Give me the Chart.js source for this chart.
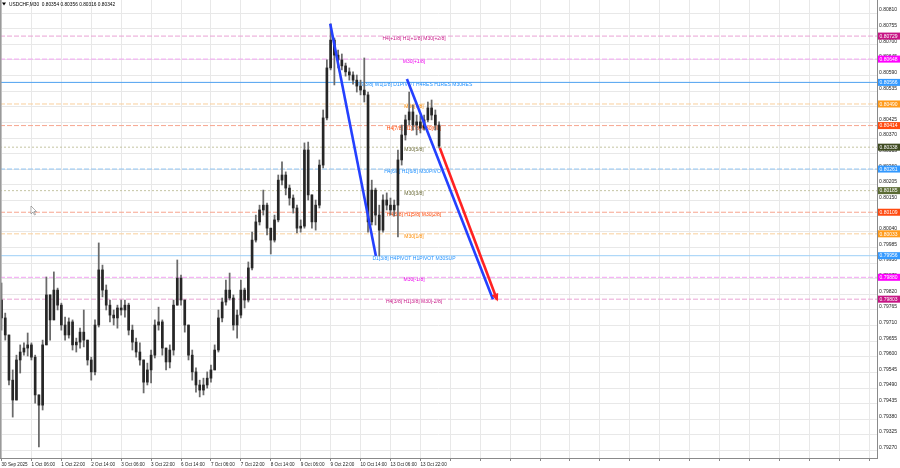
<!DOCTYPE html>
<html><head><meta charset="utf-8">
<script src="https://cdn.jsdelivr.net/npm/chart.js@4.4.1/dist/chart.umd.min.js"></script>
<style>html,body{margin:0;padding:0;background:#fff;}#wrap{position:relative;width:900px;height:468px;}</style>
</head><body><div id="wrap"><canvas id="c" width="900" height="468"></canvas></div>
<script>
// ---------------- DATA ----------------
const symbolTitle = "USDCHF,M30  0.80354 0.80356 0.80316 0.80342";
const timeLabels = ["30 Sep 2025","1 Oct 06:00","1 Oct 22:00","2 Oct 14:00","3 Oct 06:00","3 Oct 22:00","6 Oct 14:00","7 Oct 06:00","7 Oct 22:00","8 Oct 14:00","9 Oct 06:00","9 Oct 22:00","10 Oct 14:00","13 Oct 06:00","13 Oct 22:00"];
const priceTicks = [0.80810,0.80755,0.80700,0.80645,0.80590,0.80535,0.80480,0.80425,0.80370,0.80315,0.80260,0.80205,0.80150,0.80095,0.80040,0.79985,0.79930,0.79875,0.79820,0.79765,0.79710,0.79655,0.79600,0.79545,0.79490,0.79435,0.79380,0.79325,0.79270];
const firstOpen = 0.79800;
const highs = [
0.79860,0.79754,0.79677,0.79554,0.79606,0.79642,0.79649,0.79684,0.79649,0.79606,
0.79466,0.79659,0.79881,0.79818,0.79899,0.79842,0.79789,0.79740,0.79737,0.79730,
0.79666,0.79701,0.79765,0.79659,0.79599,0.79730,0.80001,0.79923,0.79853,0.79800,
0.79765,0.79782,0.79800,0.79800,0.79789,0.79712,0.79666,0.79649,0.79589,0.79578,
0.79624,0.79730,0.79775,0.79730,0.79631,0.79642,0.79800,0.79941,0.79888,0.79800,
0.79712,0.79624,0.79561,0.79518,0.79525,0.79547,0.79571,0.79642,0.79765,0.79807,
0.79870,0.79895,0.79818,0.79765,0.79870,0.79842,0.79934,0.80039,0.80099,0.80134,
0.80187,0.80141,0.80053,0.80099,0.80240,0.80286,0.80251,0.80205,0.80170,0.80134,
0.80082,0.80353,0.80356,0.80170,0.80152,0.80293,0.80469,0.80645,0.80772,0.80722,
0.80680,0.80666,0.80634,0.80617,0.80603,0.80592,0.80574,0.80652,0.80532,0.80222,
0.80194,0.80134,0.80170,0.80177,0.80159,0.80152,0.80328,0.80416,0.80451,0.80532,
0.80486,0.80451,0.80448,0.80451,0.80497,0.80504,0.80469,0.80427];
const lows = [
0.79694,0.79659,0.79501,0.79388,0.79448,0.79543,0.79606,0.79603,0.79589,0.79437,
0.79283,0.79413,0.79642,0.79659,0.79730,0.79765,0.79694,0.79659,0.79666,0.79624,
0.79617,0.79631,0.79635,0.79571,0.79518,0.79536,0.79705,0.79811,0.79765,0.79723,
0.79712,0.79701,0.79747,0.79740,0.79677,0.79624,0.79599,0.79571,0.79473,0.79501,
0.79508,0.79596,0.79694,0.79606,0.79554,0.79561,0.79606,0.79782,0.79782,0.79687,
0.79589,0.79518,0.79476,0.79459,0.79466,0.79490,0.79511,0.79554,0.79617,0.79723,
0.79782,0.79800,0.79694,0.79666,0.79737,0.79772,0.79793,0.79906,0.80004,0.80064,
0.80099,0.80029,0.79962,0.80004,0.80075,0.80205,0.80170,0.80134,0.80106,0.80036,
0.80039,0.80053,0.80152,0.80053,0.80046,0.80124,0.80265,0.80434,0.80610,0.80557,
0.80617,0.80610,0.80588,0.80574,0.80560,0.80532,0.80522,0.80497,0.80039,0.80064,
0.80064,0.79955,0.80039,0.80117,0.80099,0.80096,0.80022,0.80275,0.80363,0.80416,
0.80398,0.80381,0.80388,0.80398,0.80427,0.80434,0.80398,0.80335];
const closes = [
0.79737,0.79677,0.79518,0.79448,0.79589,0.79617,0.79631,0.79642,0.79599,0.79466,
0.79430,0.79642,0.79818,0.79730,0.79835,0.79782,0.79712,0.79677,0.79723,0.79642,
0.79652,0.79687,0.79659,0.79589,0.79547,0.79712,0.79906,0.79835,0.79782,0.79747,
0.79737,0.79772,0.79765,0.79782,0.79694,0.79652,0.79617,0.79589,0.79511,0.79554,
0.79606,0.79712,0.79723,0.79631,0.79582,0.79624,0.79782,0.79877,0.79800,0.79712,
0.79606,0.79547,0.79501,0.79483,0.79501,0.79525,0.79554,0.79624,0.79737,0.79793,
0.79835,0.79807,0.79712,0.79747,0.79835,0.79800,0.79913,0.80011,0.80075,0.80117,
0.80134,0.80053,0.80011,0.80082,0.80222,0.80240,0.80194,0.80159,0.80124,0.80053,
0.80060,0.80328,0.80170,0.80075,0.80134,0.80275,0.80441,0.80617,0.80715,0.80662,
0.80645,0.80624,0.80603,0.80592,0.80574,0.80553,0.80539,0.80522,0.80075,0.80187,
0.80099,0.80046,0.80152,0.80134,0.80117,0.80134,0.80293,0.80381,0.80434,0.80462,
0.80416,0.80427,0.80405,0.80434,0.80476,0.80451,0.80416,0.80342];
const levelValues = [0.80729,0.80648,0.80566,0.80490,0.80414,0.80338,0.80261,0.80185,0.80109,0.80033,0.79956,0.79880,0.79803];
const levelNames = ["H4[+1/8] H1[+1/8] M30[+2/8]","M30[+1/8]","MN[3/8] W1[1/8] D1PIVOT H4RES H1RES M30RES","M30[7/8]","H4[7/8] H1[7/8] M30[6/8]","M30[5/8]","H4[6/8] H1[6/8] M30PIVOT","M30[3/8]","H4[5/8] H1[5/8] M30[2/8]","M30[1/8]","D1[3/8] H4PIVOT H1PIVOT M30SUP","M30[-1/8]","H4[3/8] H1[3/8] M30[-2/8]"];
const trendBlue1X = [87.9, 100.1], trendBlue1Y = [0.80772, 0.79955];
const trendBlue2X = [108.4, 131.4], trendBlue2Y = [0.80578, 0.79803];
const trendRedX = [117.2, 132.5], trendRedY = [0.80335, 0.79801];

// ---------------- STYLE / LAYOUT ----------------
const levelStyles = [
 {line:'#e9a3d5', text:'#c71585', box:'#c71585', dash:[5,2]},
 {line:'#f3a3f3', text:'#ee00ee', box:'#ff00ff', dash:[5,2]},
 {line:'#4ea1f0', text:'#1e90ff', box:'#3399ff', dash:[]},
 {line:'#f9cf9c', text:'#ff8c00', box:'#ff9a1a', dash:[5,2]},
 {line:'#f7a58f', text:'#ff4500', box:'#ff4a10', dash:[5,2]},
 {line:'#c4c4a2', text:'#6b6b3a', box:'#3e4a20', dash:[2,2]},
 {line:'#8ec3f2', text:'#1e90ff', box:'#3399ff', dash:[5,2]},
 {line:'#c4c4a2', text:'#6b6b3a', box:'#5b6b34', dash:[2,2]},
 {line:'#f7a58f', text:'#ff4500', box:'#ff4a10', dash:[5,2]},
 {line:'#f9cf9c', text:'#ff8c00', box:'#ff9a1a', dash:[5,2]},
 {line:'#9dcff7', text:'#1e90ff', box:'#3399ff', dash:[]},
 {line:'#f3a3f3', text:'#ee00ee', box:'#ff00ff', dash:[5,2]},
 {line:'#e9a3d5', text:'#c71585', box:'#c71585', dash:[5,2]}
];
const xMin = -0.401, xMax = 234.09, yMin = 0.79244, yMax = 0.80856;
const levelTextAt = 110.3;
const FONT = '"Liberation Sans", Arial, sans-serif';
Chart.defaults.font.family = FONT;

const wickData = highs.map((h,i)=>({x:i, y:[lows[i], h]}));
const bodyData = closes.map((c,i)=>({x:i, y:[i ? closes[i-1] : firstOpen, c]}));

const datasets = [];
levelValues.forEach((v,k)=>{
  datasets.push({type:'line', data:[{x:xMin,y:v},{x:xMax,y:v}], borderColor:levelStyles[k].line,
    borderWidth:1, borderDash:levelStyles[k].dash, pointRadius:0, order:3});
});
datasets.push({type:'bar', data:wickData, backgroundColor:'#6a6a6a', barThickness:1.1, grouped:false, order:2});
datasets.push({type:'bar', data:bodyData, backgroundColor:'#262626', barThickness:2.0, grouped:false, minBarLength:1, order:1});
function seg(xs, ys){ return xs.map((x,i)=>({x, y:ys[i]})); }
datasets.push({type:'line', data:seg(trendBlue1X,trendBlue1Y), borderColor:'#2440ff', borderWidth:2.6, pointRadius:0, order:0});
datasets.push({type:'line', data:seg(trendBlue2X,trendBlue2Y), borderColor:'#2440ff', borderWidth:2.6, pointRadius:0, order:0});
datasets.push({type:'line', data:seg(trendRedX,trendRedY), borderColor:'#ff2222', borderWidth:2.6, pointRadius:0, order:0});
const redIndex = datasets.length - 1;

const overlay = {
  id:'overlay',
  beforeDatasetsDraw(chart){
    const {ctx, scales:{x,y}} = chart;
    ctx.save();
    ctx.font = '5px ' + FONT;
    ctx.textAlign = 'center'; ctx.textBaseline = 'middle';
    const cx = x.getPixelForValue(levelTextAt);
    levelValues.forEach((v,k)=>{
      ctx.fillStyle = levelStyles[k].text;
      ctx.fillText(levelNames[k], cx, y.getPixelForValue(v) + 2.6);
    });
    ctx.restore();
  },
  afterDatasetsDraw(chart){
    const {ctx} = chart;
    const pts = chart.getDatasetMeta(redIndex).data;
    if (pts.length < 2) return;
    const p0 = pts[0], p1 = pts[1];
    const a = Math.atan2(p1.y - p0.y, p1.x - p0.x);
    const ux = Math.cos(a), uy = Math.sin(a);
    ctx.save();
    ctx.fillStyle = '#ff2222';
    ctx.beginPath();
    ctx.moveTo(p1.x + ux*2, p1.y + uy*2);
    ctx.lineTo(p1.x - ux*6 - uy*3.5, p1.y - uy*6 + ux*3.5);
    ctx.lineTo(p1.x - ux*6 + uy*3.5, p1.y - uy*6 - ux*3.5);
    ctx.closePath(); ctx.fill();
    ctx.restore();
  },
  afterDraw(chart){
    const {ctx, chartArea, scales:{y}} = chart;
    ctx.save();
    ctx.fillStyle = '#9a9a9a';
    ctx.fillRect(0, 0, 1.5, chartArea.bottom);
    ctx.font = '5px ' + FONT;
    ctx.textAlign = 'left'; ctx.textBaseline = 'middle';
    levelValues.forEach((v,k)=>{
      const py = y.getPixelForValue(v);
      ctx.fillStyle = levelStyles[k].box;
      ctx.fillRect(chartArea.right + 1, py - 3.5, 22, 7);
      ctx.fillStyle = '#ffffff';
      ctx.fillText(v.toFixed(5), chartArea.right + 2.5, py + 0.3);
    });
    ctx.fillStyle = '#000';
    ctx.beginPath(); ctx.moveTo(2,2.5); ctx.lineTo(6,2.5); ctx.lineTo(4,5.5); ctx.closePath(); ctx.fill();
    ctx.font = '4.8px ' + FONT;
    ctx.fillText(symbolTitle, 9, 4.5);
    ctx.beginPath();
    ctx.moveTo(31,206); ctx.lineTo(31,214); ctx.lineTo(33,212); ctx.lineTo(34.5,215); ctx.lineTo(35.5,214.5);
    ctx.lineTo(34,211.5); ctx.lineTo(36.5,211.5); ctx.closePath();
    ctx.fillStyle = '#fff'; ctx.fill();
    ctx.strokeStyle = '#777'; ctx.lineWidth = 0.6; ctx.stroke();
    ctx.restore();
  }
};

new Chart(document.getElementById('c'), {
  type:'bar',
  data:{datasets},
  options:{
    responsive:false, animation:false, devicePixelRatio:1,
    layout:{padding:0},
    plugins:{legend:{display:false}, tooltip:{enabled:false}},
    scales:{
      x:{
        type:'linear', min:xMin, max:xMax, offset:false, position:'bottom',
        afterBuildTicks(scale){
          const t = [];
          for (let v = 0; v <= 232; v += 8) t.push({value:v});
          scale.ticks = t;
        },
        afterFit(scale){ scale.height = 10; scale.paddingLeft = 0; scale.paddingRight = 0; },
        ticks:{
          autoSkip:false, maxRotation:0, minRotation:0, align:'start', padding:0.5,
          color:'#222', font:{size:4.6},
          callback(v){ const k = Math.round(v/8); return (k < timeLabels.length) ? timeLabels[k] : ''; }
        },
        grid:{color:'#e8e8e8', offset:false, tickLength:3, tickColor:'#888', lineWidth:1},
        border:{display:true, color:'#8a8a8a'}
      },
      y:{
        type:'linear', position:'right', min:yMin, max:yMax,
        afterBuildTicks(scale){ scale.ticks = priceTicks.map(v=>({value:v})); },
        afterFit(scale){ scale.width = 23; scale.paddingTop = 0; scale.paddingBottom = 0; },
        ticks:{ color:'#222', font:{size:5}, padding:2, labelOffset:-3, callback(v){ return Number(v).toFixed(5); } },
        grid:{color:'#e8e8e8', tickLength:0},
        border:{display:true, color:'#8a8a8a'}
      }
    }
  },
  plugins:[overlay]
});
</script></body></html>
